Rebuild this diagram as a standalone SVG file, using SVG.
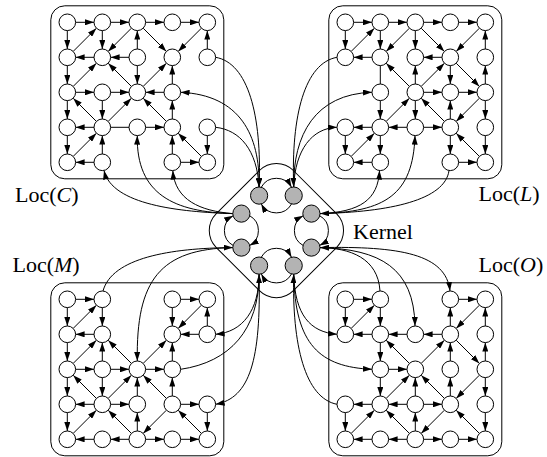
<svg xmlns="http://www.w3.org/2000/svg" width="547" height="457" viewBox="0 0 547 457">
<style>
circle{fill:#fff;stroke:#000;stroke-width:1}
circle.k{fill:#b3b3b3}
.box{fill:none;stroke:#000;stroke-width:1}
.e{fill:none;stroke:#000;stroke-width:1;marker-end:url(#a)}
.p{fill:none;stroke:#000;stroke-width:1}
text{font-family:"Liberation Serif","Times New Roman",serif;font-size:22px;fill:#000}
</style>
<defs>
<marker id="a" markerWidth="9" markerHeight="6" refX="9" refY="3" orient="auto" markerUnits="userSpaceOnUse"><path d="M0,0L9,3L0,6z" fill="#000"/></marker>
</defs>
<rect fill="#fff" width="547" height="457"/>
<g id="boxes">
<rect class="box" x="50.8" y="5.8" width="173" height="173" rx="14"/>
<rect class="box" x="328.8" y="5.8" width="173" height="173" rx="14"/>
<rect class="box" x="50.8" y="282.8" width="173" height="173" rx="14"/>
<rect class="box" x="328.8" y="282.8" width="173" height="173" rx="14"/>
<rect class="box" x="-54.5" y="-54.5" width="109" height="109" rx="24" transform="translate(276.4 230.6) rotate(45)"/>
</g>
<g id="connectors">
<g transform="translate(67.3 22.3)">
<path class="e" d="M8.3 0H26.7"/><path class="e" d="M43.3 0H61.7"/><path class="e" d="M78.3 0H96.7"/><path class="e" d="M113.3 0H131.7"/>
<path class="e" d="M0 8.3V26.7"/><path class="e" d="M5.9 29.1L29.1 5.9"/><path class="e" d="M35 8.3V26.7"/><path class="e" d="M64.1 5.9L40.9 29.1"/>
<path class="e" d="M70 26.7V8.3"/><path class="e" d="M75.9 5.9L99.1 29.1"/><path class="e" d="M134.1 5.9L110.9 29.1"/><path class="e" d="M140 26.7V8.3"/>
<path class="e" d="M26.7 35H8.3"/><path class="e" d="M61.7 35H43.3"/>
<path class="e" d="M0 43.3V61.7"/><path class="e" d="M5.9 64.1L29.1 40.9"/><path class="e" d="M64.1 64.1L40.9 40.9"/><path class="e" d="M70 43.3V61.7"/>
<path class="e" d="M75.9 64.1L99.1 40.9"/><path class="e" d="M105 61.7V43.3"/>
<path class="e" d="M8.3 70H26.7"/><path class="e" d="M43.3 70H61.7"/><path class="e" d="M96.7 70H78.3"/>
<path class="e" d="M0 78.3V96.7"/><path class="e" d="M29.1 99.1L5.9 75.9"/><path class="e" d="M35 78.3V96.7"/><path class="e" d="M40.9 99.1L64.1 75.9"/>
<path class="e" d="M99.1 99.1L75.9 75.9"/><path class="e" d="M105 96.7V78.3"/>
<path class="e" d="M26.7 105H8.3"/><path class="p" d="M43.3 105H61.7"/><path class="e" d="M78.3 105H96.7"/>
<path class="e" d="M0 113.3V131.7"/><path class="e" d="M5.9 134.1L29.1 110.9"/><path class="e" d="M35 131.7V113.3"/><path class="e" d="M105 131.7V113.3"/>
<path class="e" d="M134.1 134.1L110.9 110.9"/><path class="e" d="M140 113.3V131.7"/>
<path class="e" d="M26.7 140H8.3"/><path class="e" d="M113.3 140H131.7"/>
</g>
<g transform="translate(345.3 22.3)">
<path class="e" d="M8.3 0H26.7"/><path class="e" d="M43.3 0H61.7"/><path class="e" d="M78.3 0H96.7"/><path class="e" d="M113.3 0H131.7"/>
<path class="e" d="M0 8.3V26.7"/><path class="e" d="M5.9 29.1L29.1 5.9"/><path class="e" d="M35 8.3V26.7"/><path class="e" d="M64.1 5.9L40.9 29.1"/>
<path class="e" d="M70 8.3V26.7"/><path class="e" d="M75.9 5.9L99.1 29.1"/><path class="e" d="M134.1 5.9L110.9 29.1"/><path class="e" d="M140 26.7V8.3"/>
<path class="e" d="M26.7 35H8.3"/><path class="e" d="M96.7 35H78.3"/>
<path class="p" d="M35 43.3V61.7"/><path class="e" d="M64.1 64.1L40.9 40.9"/><path class="e" d="M70 61.7V43.3"/><path class="e" d="M75.9 64.1L99.1 40.9"/>
<path class="e" d="M105 43.3V61.7"/><path class="e" d="M110.9 40.9L134.1 64.1"/><path class="e" d="M140 61.7V43.3"/>
<path class="e" d="M78.3 70H96.7"/><path class="e" d="M113.3 70H131.7"/>
<path class="e" d="M35 78.3V96.7"/><path class="e" d="M40.9 99.1L64.1 75.9"/><path class="e" d="M70 78.3V96.7"/><path class="e" d="M99.1 99.1L75.9 75.9"/>
<path class="e" d="M105 96.7V78.3"/><path class="e" d="M134.1 75.9L110.9 99.1"/><path class="e" d="M140 78.3V96.7"/>
<path class="e" d="M26.7 105H8.3"/><path class="e" d="M61.7 105H43.3"/><path class="e" d="M78.3 105H96.7"/>
<path class="e" d="M0 113.3V131.7"/><path class="e" d="M5.9 134.1L29.1 110.9"/><path class="e" d="M35 113.3V131.7"/><path class="e" d="M105 113.3V131.7"/>
<path class="e" d="M134.1 134.1L110.9 110.9"/><path class="e" d="M140 113.3V131.7"/>
<path class="e" d="M26.7 140H8.3"/><path class="e" d="M113.3 140H131.7"/>
</g>
<g transform="translate(67.3 299.3)">
<path class="e" d="M8.3 0H26.7"/><path class="e" d="M0 8.3V26.7"/><path class="e" d="M5.9 29.1L29.1 5.9"/><path class="e" d="M35 8.3V26.7"/>
<path class="e" d="M113.3 0H131.7"/><path class="e" d="M105 8.3V26.7"/><path class="e" d="M134.1 5.9L110.9 29.1"/><path class="e" d="M140 26.7V8.3"/>
<path class="e" d="M26.7 35H8.3"/><path class="e" d="M131.7 35H113.3"/>
<path class="e" d="M0 43.3V61.7"/><path class="e" d="M5.9 64.1L29.1 40.9"/><path class="e" d="M35 61.7V43.3"/><path class="e" d="M64.1 64.1L40.9 40.9"/>
<path class="e" d="M75.9 64.1L99.1 40.9"/><path class="e" d="M105 61.7V43.3"/>
<path class="e" d="M8.3 70H26.7"/><path class="e" d="M43.3 70H61.7"/><path class="e" d="M78.3 70H96.7"/>
<path class="e" d="M0 78.3V96.7"/><path class="e" d="M29.1 99.1L5.9 75.9"/><path class="e" d="M35 78.3V96.7"/><path class="e" d="M40.9 99.1L64.1 75.9"/>
<path class="e" d="M70 96.7V78.3"/><path class="e" d="M99.1 99.1L75.9 75.9"/><path class="e" d="M105 96.7V78.3"/>
<path class="e" d="M26.7 105H8.3"/><path class="e" d="M43.3 105H61.7"/><path class="e" d="M113.3 105H131.7"/>
<path class="e" d="M0 113.3V131.7"/><path class="e" d="M5.9 134.1L29.1 110.9"/><path class="e" d="M64.1 134.1L40.9 110.9"/><path class="e" d="M70 131.7V113.3"/>
<path class="e" d="M99.1 110.9L75.9 134.1"/><path class="e" d="M134.1 134.1L110.9 110.9"/><path class="e" d="M140 113.3V131.7"/>
<path class="e" d="M26.7 140H8.3"/><path class="e" d="M61.7 140H43.3"/><path class="e" d="M78.3 140H96.7"/><path class="e" d="M113.3 140H131.7"/>
</g>
<g transform="translate(345.3 299.3)">
<path class="e" d="M8.3 0H26.7"/><path class="e" d="M113.3 0H131.7"/><path class="e" d="M0 8.3V26.7"/><path class="e" d="M5.9 29.1L29.1 5.9"/>
<path class="e" d="M35 8.3V26.7"/><path class="e" d="M105 26.7V8.3"/><path class="e" d="M134.1 5.9L110.9 29.1"/><path class="e" d="M140 26.7V8.3"/>
<path class="e" d="M26.7 35H8.3"/><path class="e" d="M61.7 35H43.3"/><path class="e" d="M96.7 35H78.3"/>
<path class="e" d="M35 43.3V61.7"/><path class="e" d="M64.1 64.1L40.9 40.9"/><path class="e" d="M75.9 64.1L99.1 40.9"/><path class="e" d="M105 61.7V43.3"/>
<path class="e" d="M110.9 40.9L134.1 64.1"/><path class="e" d="M140 61.7V43.3"/>
<path class="e" d="M43.3 70H61.7"/>
<path class="e" d="M35 78.3V96.7"/><path class="e" d="M40.9 99.1L64.1 75.9"/><path class="e" d="M70 96.7V78.3"/><path class="e" d="M99.1 99.1L75.9 75.9"/>
<path class="e" d="M105 96.7V78.3"/><path class="e" d="M134.1 75.9L110.9 99.1"/><path class="e" d="M140 78.3V96.7"/>
<path class="e" d="M26.7 105H8.3"/><path class="e" d="M61.7 105H43.3"/><path class="e" d="M78.3 105H96.7"/>
<path class="e" d="M0 113.3V131.7"/><path class="e" d="M5.9 134.1L29.1 110.9"/><path class="e" d="M64.1 134.1L40.9 110.9"/><path class="e" d="M70 131.7V113.3"/>
<path class="e" d="M99.1 110.9L75.9 134.1"/><path class="e" d="M134.1 134.1L110.9 110.9"/><path class="e" d="M140 113.3V131.7"/>
<path class="e" d="M26.7 140H8.3"/><path class="e" d="M61.7 140H43.3"/><path class="e" d="M78.3 140H96.7"/><path class="e" d="M113.3 140H131.7"/>
</g>
<g id="kernel-cycles">
<path class="e" d="M261.24 187.27A17.3 17.3 0 0 1 291.56 187.27"/>
<path class="e" d="M291.56 203.93A17.3 17.3 0 0 1 261.24 203.93"/>
<path class="e" d="M249.72 215.77A17 17 0 0 1 249.72 245.43"/>
<path class="e" d="M233.08 245.43A17 17 0 0 1 233.08 215.77"/>
<path class="e" d="M319.72 215.77A17 17 0 0 1 319.72 245.43"/>
<path class="e" d="M303.08 245.43A17 17 0 0 1 303.08 215.77"/>
<path class="e" d="M261.24 257.27A17.3 17.3 0 0 1 291.56 257.27"/>
<path class="e" d="M291.56 273.93A17.3 17.3 0 0 1 261.24 273.93"/>
</g>
<g id="kernel-links">
<path class="e" d="M215.6 57.3C248 63 262 115 259.1 187"/>
<path class="e" d="M259.1 187C260 135 240 95 180.6 92.3"/>
<path class="e" d="M215.6 127.3C240 130 257 150 259.1 187"/>
<path class="e" d="M232.8 213.6C180 212 112 205 104 170.5"/>
<path class="e" d="M232.8 213.6C175 212 136 195 137.3 135.6"/>
<path class="e" d="M232.8 213.6C200 211 175 200 172.8 170.6"/>
<path class="e" d="M337 57.3C305 63 291 115 293.7 187"/>
<path class="e" d="M293.7 187C293 135 315 94 372 92.3"/>
<path class="e" d="M293.7 187C295 150 312 128 337 127.3"/>
<path class="e" d="M320 213.6C360 212 378 200 379.5 170.6"/>
<path class="e" d="M320 213.6C385 212 413 195 415 135.6"/>
<path class="e" d="M449 170.6C445 200 390 212 320 213.6"/>
<path class="e" d="M103 291C112 258 170 248 232.8 247.6"/>
<path class="e" d="M232.8 247.6C160 249 136 280 137.3 361"/>
<path class="e" d="M259.1 274.2C259 310 243 332 215.6 334.3"/>
<path class="e" d="M180.6 369.3C230 362 259 330 259.1 274.2"/>
<path class="e" d="M259.1 274.2C261 360 250 398 215.6 404.3"/>
<path class="e" d="M293.7 274.2C295 315 310 332 337 334.3"/>
<path class="e" d="M293.7 274.2C295 345 320 367 372 369.3"/>
<path class="e" d="M337 404.3C305 398 292 345 293.7 274.2"/>
<path class="e" d="M380 291C378 258 350 248 320 247.6"/>
<path class="e" d="M320 247.6C380 249 414 268 415 326"/>
<path class="e" d="M320 247.6C400 246 446 254 450 291"/>
</g>
</g>
<g id="Loc-C" transform="translate(67.3 22.3)">
<g id="C00"><circle cx="0" cy="0" r="8.3"/></g><g id="C01"><circle cx="35" cy="0" r="8.3"/></g><g id="C02"><circle cx="70" cy="0" r="8.3"/></g><g id="C03"><circle cx="105" cy="0" r="8.3"/></g><g id="C04"><circle cx="140" cy="0" r="8.3"/></g>
<g id="C10"><circle cx="0" cy="35" r="8.3"/></g><g id="C11"><circle cx="35" cy="35" r="8.3"/></g><g id="C12"><circle cx="70" cy="35" r="8.3"/></g><g id="C13"><circle cx="105" cy="35" r="8.3"/></g><g id="C14"><circle cx="140" cy="35" r="8.3"/></g>
<g id="C20"><circle cx="0" cy="70" r="8.3"/></g><g id="C21"><circle cx="35" cy="70" r="8.3"/></g><g id="C22"><circle cx="70" cy="70" r="8.3"/></g><g id="C23"><circle cx="105" cy="70" r="8.3"/></g>
<g id="C30"><circle cx="0" cy="105" r="8.3"/></g><g id="C31"><circle cx="35" cy="105" r="8.3"/></g><g id="C32"><circle cx="70" cy="105" r="8.3"/></g><g id="C33"><circle cx="105" cy="105" r="8.3"/></g><g id="C34"><circle cx="140" cy="105" r="8.3"/></g>
<g id="C40"><circle cx="0" cy="140" r="8.3"/></g><g id="C41"><circle cx="35" cy="140" r="8.3"/></g><g id="C43"><circle cx="105" cy="140" r="8.3"/></g><g id="C44"><circle cx="140" cy="140" r="8.3"/></g>
</g>
<g id="Loc-L" transform="translate(345.3 22.3)">
<g id="L00"><circle cx="0" cy="0" r="8.3"/></g><g id="L01"><circle cx="35" cy="0" r="8.3"/></g><g id="L02"><circle cx="70" cy="0" r="8.3"/></g><g id="L03"><circle cx="105" cy="0" r="8.3"/></g><g id="L04"><circle cx="140" cy="0" r="8.3"/></g>
<g id="L10"><circle cx="0" cy="35" r="8.3"/></g><g id="L11"><circle cx="35" cy="35" r="8.3"/></g><g id="L12"><circle cx="70" cy="35" r="8.3"/></g><g id="L13"><circle cx="105" cy="35" r="8.3"/></g><g id="L14"><circle cx="140" cy="35" r="8.3"/></g>
<g id="L21"><circle cx="35" cy="70" r="8.3"/></g><g id="L22"><circle cx="70" cy="70" r="8.3"/></g><g id="L23"><circle cx="105" cy="70" r="8.3"/></g><g id="L24"><circle cx="140" cy="70" r="8.3"/></g>
<g id="L30"><circle cx="0" cy="105" r="8.3"/></g><g id="L31"><circle cx="35" cy="105" r="8.3"/></g><g id="L32"><circle cx="70" cy="105" r="8.3"/></g><g id="L33"><circle cx="105" cy="105" r="8.3"/></g><g id="L34"><circle cx="140" cy="105" r="8.3"/></g>
<g id="L40"><circle cx="0" cy="140" r="8.3"/></g><g id="L41"><circle cx="35" cy="140" r="8.3"/></g><g id="L43"><circle cx="105" cy="140" r="8.3"/></g><g id="L44"><circle cx="140" cy="140" r="8.3"/></g>
</g>
<g id="Loc-M" transform="translate(67.3 299.3)">
<g id="M00"><circle cx="0" cy="0" r="8.3"/></g><g id="M01"><circle cx="35" cy="0" r="8.3"/></g><g id="M03"><circle cx="105" cy="0" r="8.3"/></g><g id="M04"><circle cx="140" cy="0" r="8.3"/></g>
<g id="M10"><circle cx="0" cy="35" r="8.3"/></g><g id="M11"><circle cx="35" cy="35" r="8.3"/></g><g id="M13"><circle cx="105" cy="35" r="8.3"/></g><g id="M14"><circle cx="140" cy="35" r="8.3"/></g>
<g id="M20"><circle cx="0" cy="70" r="8.3"/></g><g id="M21"><circle cx="35" cy="70" r="8.3"/></g><g id="M22"><circle cx="70" cy="70" r="8.3"/></g><g id="M23"><circle cx="105" cy="70" r="8.3"/></g>
<g id="M30"><circle cx="0" cy="105" r="8.3"/></g><g id="M31"><circle cx="35" cy="105" r="8.3"/></g><g id="M32"><circle cx="70" cy="105" r="8.3"/></g><g id="M33"><circle cx="105" cy="105" r="8.3"/></g><g id="M34"><circle cx="140" cy="105" r="8.3"/></g>
<g id="M40"><circle cx="0" cy="140" r="8.3"/></g><g id="M41"><circle cx="35" cy="140" r="8.3"/></g><g id="M42"><circle cx="70" cy="140" r="8.3"/></g><g id="M43"><circle cx="105" cy="140" r="8.3"/></g><g id="M44"><circle cx="140" cy="140" r="8.3"/></g>
</g>
<g id="Loc-O" transform="translate(345.3 299.3)">
<g id="O00"><circle cx="0" cy="0" r="8.3"/></g><g id="O01"><circle cx="35" cy="0" r="8.3"/></g><g id="O03"><circle cx="105" cy="0" r="8.3"/></g><g id="O04"><circle cx="140" cy="0" r="8.3"/></g>
<g id="O10"><circle cx="0" cy="35" r="8.3"/></g><g id="O11"><circle cx="35" cy="35" r="8.3"/></g><g id="O12"><circle cx="70" cy="35" r="8.3"/></g><g id="O13"><circle cx="105" cy="35" r="8.3"/></g><g id="O14"><circle cx="140" cy="35" r="8.3"/></g>
<g id="O21"><circle cx="35" cy="70" r="8.3"/></g><g id="O22"><circle cx="70" cy="70" r="8.3"/></g><g id="O23"><circle cx="105" cy="70" r="8.3"/></g><g id="O24"><circle cx="140" cy="70" r="8.3"/></g>
<g id="O30"><circle cx="0" cy="105" r="8.3"/></g><g id="O31"><circle cx="35" cy="105" r="8.3"/></g><g id="O32"><circle cx="70" cy="105" r="8.3"/></g><g id="O33"><circle cx="105" cy="105" r="8.3"/></g><g id="O34"><circle cx="140" cy="105" r="8.3"/></g>
<g id="O40"><circle cx="0" cy="140" r="8.3"/></g><g id="O41"><circle cx="35" cy="140" r="8.3"/></g><g id="O42"><circle cx="70" cy="140" r="8.3"/></g><g id="O43"><circle cx="105" cy="140" r="8.3"/></g><g id="O44"><circle cx="140" cy="140" r="8.3"/></g>
</g>
<g id="Kernel">
<g id="K-TL"><circle class="k" cx="259.1" cy="195.6" r="8.6"/></g>
<g id="K-TR"><circle class="k" cx="293.7" cy="195.6" r="8.6"/></g>
<g id="K-LT"><circle class="k" cx="241.4" cy="213.6" r="8.6"/></g>
<g id="K-LB"><circle class="k" cx="241.4" cy="247.6" r="8.6"/></g>
<g id="K-RT"><circle class="k" cx="311.4" cy="213.6" r="8.6"/></g>
<g id="K-RB"><circle class="k" cx="311.4" cy="247.6" r="8.6"/></g>
<g id="K-BL"><circle class="k" cx="259.1" cy="265.6" r="8.6"/></g>
<g id="K-BR"><circle class="k" cx="293.7" cy="265.6" r="8.6"/></g>
</g>
<g id="labels">
<text x="15" y="202">Loc(<tspan font-style="italic">C</tspan>)</text>
<text x="478.5" y="201">Loc(<tspan font-style="italic">L</tspan>)</text>
<text x="12.5" y="272">Loc(<tspan font-style="italic">M</tspan>)</text>
<text x="478.5" y="272">Loc(<tspan font-style="italic">O</tspan>)</text>
<text x="353" y="239">Kernel</text>
</g>
</svg>
